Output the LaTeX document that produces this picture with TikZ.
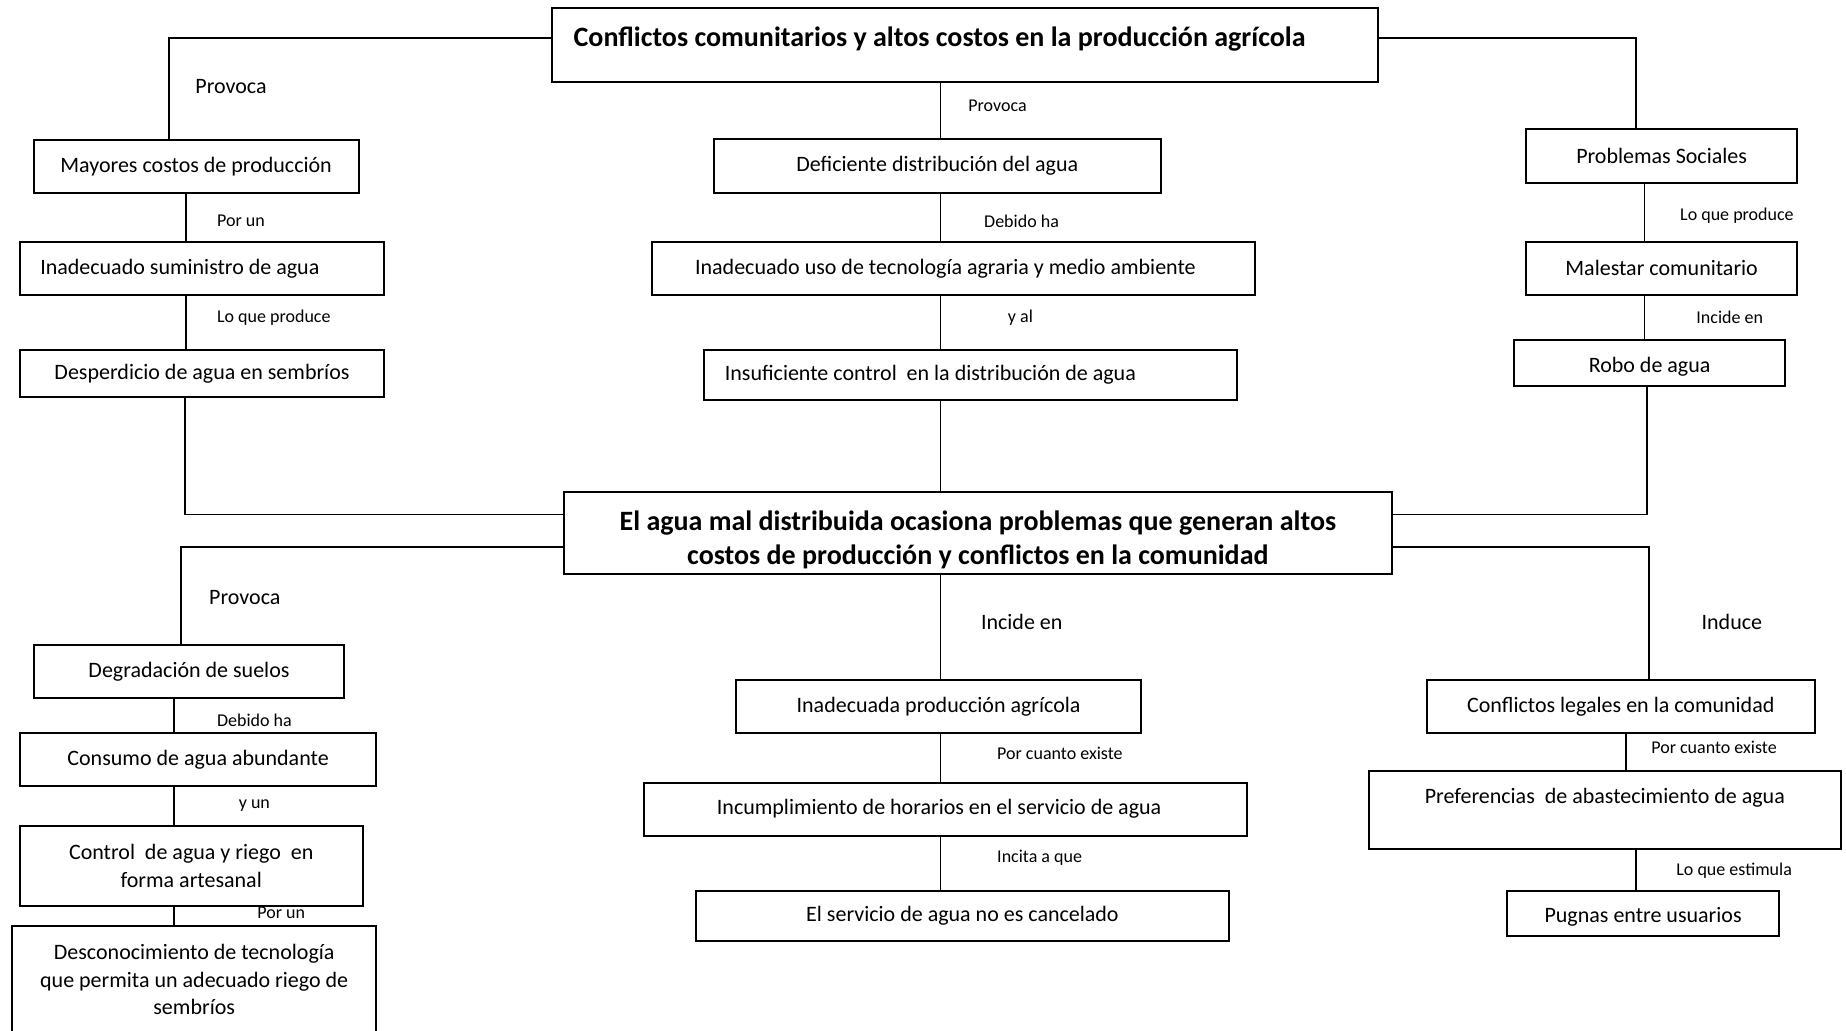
\documentclass[tikz,border=0pt]{standalone}
\usepackage{fontspec}
\setmainfont{Carlito}
\newcommand{\boxfont}{\fontsize{11}{13.8}\selectfont}
\newcommand{\headfont}{\fontsize{14}{16.9}\selectfont\bfseries}
\newcommand{\drawbox}[2]{\node[box,minimum width=#1,minimum height=#2]}
\newcommand{\drawnote}{\node[note]}
\newcommand{\drawbignote}{\node[bignote]}
\newcommand{\padtext}[3]{\makebox[#1][l]{\hspace*{#2}#3}}
\tikzset{
  box/.style={draw,rectangle,line width=1pt,inner sep=0pt,font=\boxfont},
  note/.style={anchor=west,inner sep=0pt,font=\fontsize{9}{11}\selectfont,text height=6.3pt,text depth=1.8pt},
  bignote/.style={anchor=west,inner sep=0pt,font=\fontsize{11}{13}\selectfont,text height=7.7pt,text depth=2.2pt},
  link/.style={line width=0.8pt}
}

\begin{document}
\begin{tikzpicture}[x=1pt,y=-1pt]
\useasboundingbox (0,0) rectangle (923,515);
\clip (0,0) rectangle (923,515);

%top problem
\drawbox{413.05pt}{37.25pt} (title) [font=\headfont,text height=10.5pt,text depth=8.8pt] at (482.7,22.4) {\padtext{413.05pt}{10.65pt}{Conflictos comunitarios y altos costos en la producción agrícola}};

%left branch
\drawbox{162.5pt}{26.35pt} (mayores) at (98.05,83.2) {Mayores costos de producción};
\drawbox{182.25pt}{26.65pt} (suministro) at (101,134.2) {\padtext{182.25pt}{10.25pt}{Inadecuado suministro de agua}};
\drawbox{182.25pt}{23.65pt} (desperdicio) at (101,186.8) {Desperdicio de agua en sembríos};

%middle branch
\drawbox{223.6pt}{26.85pt} (deficiente) at (468.65,82.9) {Deficiente distribución del agua};
\drawbox{301.7pt}{26.65pt} (tecnologia) at (476.65,134.2) {\padtext{301.7pt}{21.75pt}{Inadecuado uso de tecnología agraria y medio ambiente}};
\drawbox{266.5pt}{25pt} (control) at (485.15,187.5) {\padtext{266.5pt}{10.5pt}{Insuficiente control~ en la distribución de agua}};

%right branch
\drawbox{135.65pt}{26.7pt} (sociales) at (830.8,78) {Problemas Sociales};
\drawbox{135.65pt}{26.65pt} (malestar) at (830.8,134.2) {Malestar comunitario};
\drawbox{135.25pt}{22.85pt} (robo) [text height=12pt,text depth=2.3pt] at (824.8,181.4) {Robo de agua};

%central problem
\drawbox{413.75pt}{41pt} (central) [font=\headfont,align=center,text height=34.6pt,text depth=3pt] at (488.9,266.5) {El agua mal distribuida ocasiona problemas que generan altos\\costos de producción y conflictos en la comunidad};

%lower left
\drawbox{155.4pt}{26.65pt} (degradacion) at (94.5,335.8) {Degradación de suelos};
\drawbox{178.3pt}{26.65pt} (consumo) at (99.05,379.9) {Consumo de agua abundante};
\drawbox{171.4pt}{40.3pt} (artesanal) [align=center] at (95.6,433.05) {Control~ de agua y riego~ en\\forma artesanal};
\drawbox{182.25pt}{53.8pt} (desconoce) [align=center] at (97.1,489.8) {Desconocimiento de tecnología\\que permita un adecuado riego de\\sembríos};

%lower middle
\drawbox{202.65pt}{26.65pt} (produccion) at (469.3,353.3) {Inadecuada producción agrícola};
\drawbox{301.5pt}{26.5pt} (horarios) at (472.6,404.55) {\padtext{301.5pt}{36.6pt}{Incumplimiento de horarios en el servicio de agua}};
\drawbox{266.5pt}{25.3pt} (cancelado) at (481.2,458.05) {El servicio de agua no es cancelado};

%lower right
\drawbox{194pt}{26.65pt} (legales) at (810.4,353.3) {Conflictos legales en la comunidad};
\drawbox{236.05pt}{39.1pt} (preferencias) [text height=7.6pt,text depth=14.5pt] at (802.4,405.05) {Preferencias~ de abastecimiento de agua};
\drawbox{135.7pt}{22.75pt} (pugnas) [text height=11pt,text depth=2.3pt] at (821.55,456.8) {Pugnas entre usuarios};

%bends of the connectors
\coordinate (upleft) at (84.6,18.85);
\coordinate (upright) at (818.05,18.85);
\coordinate (midcol) at (470.15,0);
\coordinate (leftA) at (93.1,0);
\coordinate (leftB) at (92.35,257.3);
\coordinate (rightA) at (822.3,0);
\coordinate (rightB) at (823.6,257.3);
\coordinate (lowleft) at (90.35,273.5);
\coordinate (lowright) at (824.45,273.5);
\coordinate (leftC) at (87,0);
\coordinate (rightC) at (812.85,0);
\coordinate (rightD) at (818.05,0);

\draw[link] (title.west |- upleft) -| (mayores.north -| upleft);
\draw[link] (title.east |- upright) -| (sociales.north -| upright);
\draw[link] (title.south -| midcol) -- (deficiente.north -| midcol);

\draw[link] (mayores.south -| leftA) -- (suministro.north -| leftA);
\draw[link] (suministro.south -| leftA) -- (desperdicio.north -| leftA);
\draw[link] (desperdicio.south -| leftB) |- (central.west |- leftB);

\draw[link] (deficiente.south -| midcol) -- (tecnologia.north -| midcol);
\draw[link] (tecnologia.south -| midcol) -- (control.north -| midcol);
\draw[link] (control.south -| midcol) -- (central.north -| midcol);

\draw[link] (sociales.south -| rightA) -- (malestar.north -| rightA);
\draw[link] (malestar.south -| rightA) -- (robo.north -| rightA);
\draw[link] (robo.south -| rightB) |- (central.east |- rightB);

\draw[link] (central.west |- lowleft) -| (degradacion.north -| lowleft);
\draw[link] (degradacion.south -| leftC) -- (consumo.north -| leftC);
\draw[link] (consumo.south -| leftC) -- (artesanal.north -| leftC);
\draw[link] (artesanal.south -| leftC) -- (desconoce.north -| leftC);

\draw[link] (central.south -| midcol) -- (produccion.north -| midcol);
\draw[link] (produccion.south -| midcol) -- (horarios.north -| midcol);
\draw[link] (horarios.south -| midcol) -- (cancelado.north -| midcol);

\draw[link] (central.east |- lowright) -| (legales.north -| lowright);
\draw[link] (legales.south -| rightC) -- (preferencias.north -| rightC);
\draw[link] (preferencias.south -| rightD) -- (pugnas.north -| rightD);

%labels on the connectors
\drawbignote (provocaA) at (97.5,44.15) {Provoca};
\drawnote (porunA) at (108.35,110.85) {Por un};
\drawnote (loqueA) at (108.35,159.15) {Lo que produce};
\drawnote (provocaB) at (484,53.65) {Provoca};
\drawnote (debidoA) at (491.9,111.65) {Debido ha};
\drawnote (yal) at (503.75,159.15) {y al};
\drawnote (loqueB) at (839.9,107.85) {Lo que produce};
\drawnote (incideA) at (848,159.65) {Incide en};

\drawbignote (provocaC) at (104.4,299.5) {Provoca};
\drawnote (debidoB) at (108.35,360.8) {Debido ha};
\drawnote (yun) at (119.2,402.2) {y un};
\drawnote (porunB) at (128.5,457.1) {Por un};
\drawbignote (incideB) at (490.3,311.75) {Incide en};
\drawnote (cuantoA) at (498.4,377.7) {Por cuanto existe};
\drawnote (incita) at (498.4,428.85) {Incita a que};
\drawbignote (induce) at (850.6,311.75) {Induce};
\drawnote (cuantoB) at (825.45,374.4) {Por cuanto existe};
\drawnote (estimula) at (838,435.7) {Lo que estimula};
\end{tikzpicture}
\end{document}
